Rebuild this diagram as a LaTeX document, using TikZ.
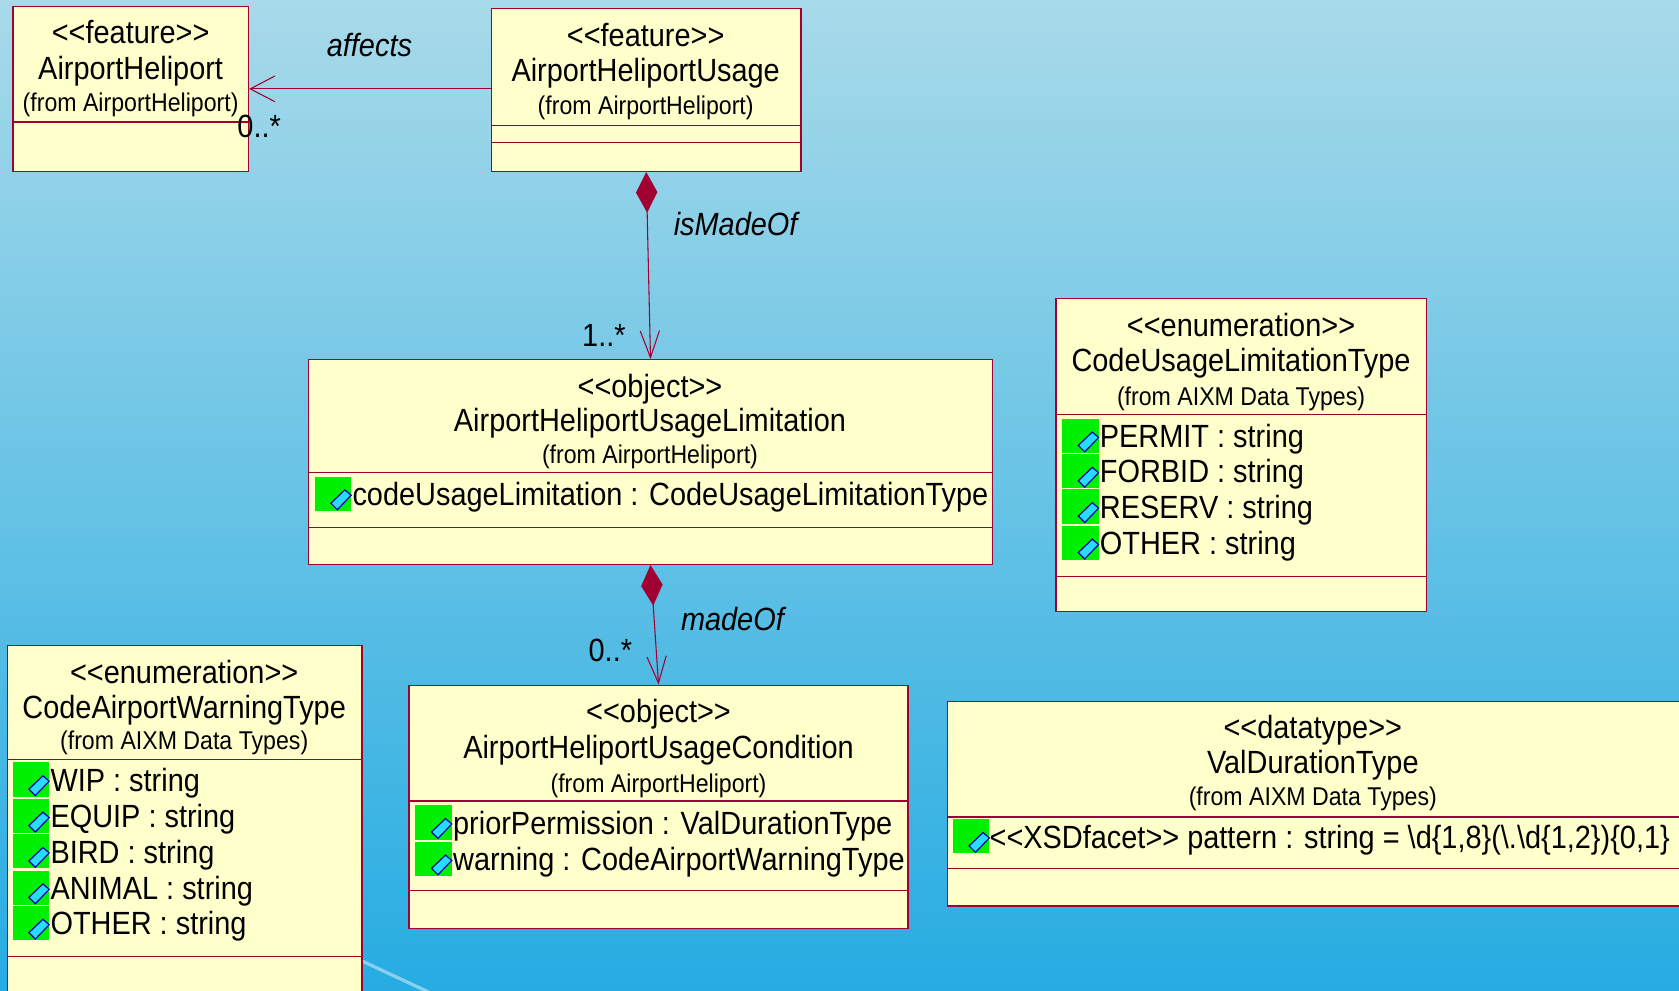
\documentclass[tikz,border=0pt]{standalone}
\usepackage{fontspec}
\setmainfont{Liberation Sans}[FakeStretch=0.9]
\usetikzlibrary{arrows.meta}
\definecolor{umlred}{RGB}{160,0,50}
\definecolor{umlfill}{RGB}{255,255,204}
\definecolor{bgtop}{RGB}{168,218,233}
\definecolor{bgbot}{RGB}{38,172,226}
\definecolor{icongreen}{RGB}{0,240,0}
\definecolor{iconcyan}{RGB}{40,220,255}
\definecolor{iconblue}{RGB}{0,0,170}
\newcommand{\stereo}[1]{\textless\kern0pt\textless\kern0pt#1\kern0pt\textgreater\kern0pt\textgreater}
\newcommand{\attricon}[2]{%
  \begin{scope}[shift={(#1,#2)}]
    \fill[icongreen] (0,0) rectangle (34,32);
    \filldraw[fill=iconcyan,draw=iconblue,line width=1.1pt]
      (15,25) -- (28,12.5) -- (34,17.5) -- (21,31) -- cycle;
  \end{scope}}
\begin{document}
\begin{tikzpicture}[x=1pt,y=-1pt,
  cls/.style={draw=umlred,fill=umlfill,line width=1.3pt,rectangle,inner sep=0pt},
  sepline/.style={draw=umlred,line width=1.1pt},
  big/.style={font=\fontsize{30}{34}\selectfont,inner sep=0pt,anchor=base},
  small/.style={font=\fontsize{24}{28}\selectfont,inner sep=0pt,anchor=base},
  attr/.style={font=\fontsize{30}{34}\selectfont,inner sep=0pt,anchor=base west},
  lbl/.style={font=\fontsize{30}{34}\selectfont\itshape,inner sep=0pt,anchor=base},
  assoc/.style={draw=umlred,line width=1pt},
  comp/.style={assoc,{Diamond[length=38pt,width=20pt,umlred,fill=umlred]}-{Straight Barb[length=25pt,width=18pt]}}
]
\useasboundingbox (0,0) rectangle (1568,925);
\shade[top color=bgtop,bottom color=bgbot] (0,0) rectangle (1568,925);
\clip (0,0) rectangle (1568,925);
\draw[white,opacity=0.45,line width=3pt] (290,875) -- (410,931);

% ---- boxes
\node[cls,minimum width=220pt,minimum height=154pt] (A) at (122,83) {};
\node[cls,minimum width=289pt,minimum height=152pt] (B) at (603.5,84) {};
\node[cls,minimum width=639pt,minimum height=191pt] (C) at (607.5,431.5) {};
\node[cls,minimum width=346pt,minimum height=292pt] (D) at (1159,425) {};
\node[cls,minimum width=331pt,minimum height=354pt] (E) at (172.5,780) {};
\node[cls,minimum width=466pt,minimum height=227pt] (F) at (615,753.5) {};
\node[cls,minimum width=690pt,minimum height=191pt] (G) at (1230,750.5) {};

% ---- separators
\draw[sepline] (A.west |- 0,114) -- (A.east |- 0,114);
\draw[sepline] (B.west |- 0,117) -- (B.east |- 0,117);
\draw[sepline] (B.west |- 0,133) -- (B.east |- 0,133);
\draw[sepline] (C.west |- 0,441) -- (C.east |- 0,441);
\draw[sepline] (C.west |- 0,493) -- (C.east |- 0,493);
\draw[sepline] (D.west |- 0,387) -- (D.east |- 0,387);
\draw[sepline] (D.west |- 0,538) -- (D.east |- 0,538);
\draw[sepline] (E.west |- 0,709) -- (E.east |- 0,709);
\draw[sepline] (E.west |- 0,893) -- (E.east |- 0,893);
\draw[sepline] (F.west |- 0,748) -- (F.east |- 0,748);
\draw[sepline] (F.west |- 0,832) -- (F.east |- 0,832);
\draw[sepline] (G.west |- 0,763) -- (G.east |- 0,763);
\draw[sepline] (G.west |- 0,811) -- (G.east |- 0,811);

% ---- box A
\node[big] (a1) at (122,41) {\stereo{feature}};
\node[big] (a2) at (122,74) {AirportHeliport};
\node[small] (a3) at (122,104) {(from AirportHeliport)};
% ---- box B
\node[big] (b1) at (603,43) {\stereo{feature}};
\node[big] (b2) at (603,76) {AirportHeliportUsage};
\node[small] (b3) at (603,107) {(from AirportHeliport)};
% ---- box C
\node[big] (c1) at (607,371) {\stereo{object}};
\node[big] (c2) at (607,403) {AirportHeliportUsageLimitation};
\node[small] (c3) at (607,433) {(from AirportHeliport)};
\attricon{294}{445}
\node[attr] (c4) at (329,472) {codeUsageLimitation : CodeUsageLimitationType};
% ---- box D
\node[big] (d1) at (1159,314) {\stereo{enumeration}};
\node[big] (d2) at (1159,347) {CodeUsageLimitationType};
\node[small] (d3) at (1159,379) {(from AIXM Data Types)};
\attricon{992}{391}
\attricon{992}{424}
\attricon{992}{457}
\attricon{992}{491}
\node[attr] (d4) at (1027,418) {PERMIT : string};
\node[attr] (d5) at (1027,451) {FORBID : string};
\node[attr] (d6) at (1027,484) {RESERV : string};
\node[attr] (d7) at (1027,518) {OTHER : string};
% ---- box E
\node[big] (e1) at (172,638) {\stereo{enumeration}};
\node[big] (e2) at (172,671) {CodeAirportWarningType};
\node[small] (e3) at (172,700) {(from AIXM Data Types)};
\attricon{12}{712}
\attricon{12}{746}
\attricon{12}{779}
\attricon{12}{813}
\attricon{12}{846}
\node[attr] (e4) at (47,739) {WIP : string};
\node[attr] (e5) at (47,773) {EQUIP : string};
\node[attr] (e6) at (47,806) {BIRD : string};
\node[attr] (e7) at (47,840) {ANIMAL : string};
\node[attr] (e8) at (47,873) {OTHER : string};
% ---- box F
\node[big] (f1) at (615,675) {\stereo{object}};
\node[big] (f2) at (615,708) {AirportHeliportUsageCondition};
\node[small] (f3) at (615,740) {(from AirportHeliport)};
\attricon{388}{752}
\attricon{388}{786}
\node[attr] (f4) at (423,779) {priorPermission : ValDurationType};
\node[attr] (f5) at (423,813) {warning : CodeAirportWarningType};
% ---- box G
\node[big] (g1) at (1226,690) {\stereo{datatype}};
\node[big] (g2) at (1226,722) {ValDurationType};
\node[small] (g3) at (1226,752) {(from AIXM Data Types)};
\attricon{890}{765}
\node[attr] (g4) at (924,792) {\stereo{XSDfacet} pattern : string = \textbackslash d\{1,8\}(\textbackslash.\textbackslash d\{1,2\})\{0,1\}};

% ---- connectors
\draw[assoc,-{Straight Barb[length=23pt,width=24pt]}] (B.west |- A.east) -- (A.east);
\draw[comp] (B.south) -- (C.north);
\draw[comp] (C.south) -- (F.north);

% ---- connector labels
\node[lbl] (laff) at (345,53) {affects};
\node[big] (m1) at (242,128) {0..*};
\node[lbl] (lim) at (687,220) {isMadeOf};
\node[big] (m2) at (564,324) {1..*};
\node[lbl] (lmo) at (684,589) {madeOf};
\node[big] (m3) at (570,618) {0..*};
\end{tikzpicture}
\end{document}
